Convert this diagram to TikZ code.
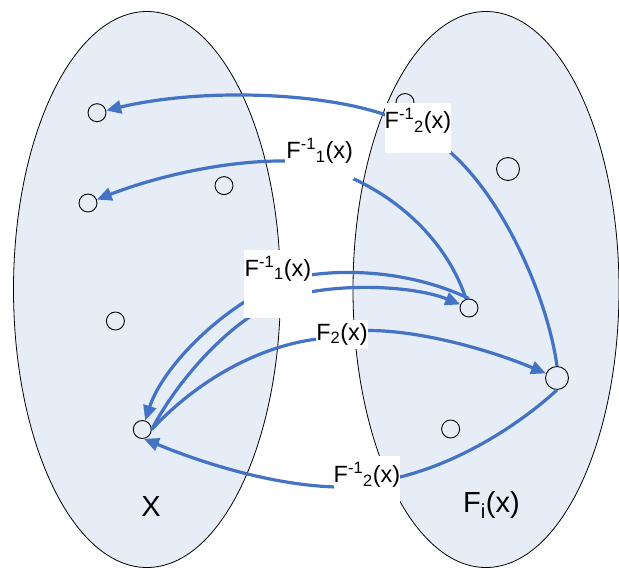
\documentclass[tikz,border=0pt]{standalone}
\usepackage{fontspec}
\setmainfont{Liberation Sans}
\usetikzlibrary{arrows.meta,shapes.geometric}
\definecolor{setfill}{RGB}{230,237,247}
\definecolor{arrowblue}{RGB}{68,114,196}
\begin{document}
\begin{tikzpicture}[x=1pt,y=-1pt,
  setshape/.style={ellipse, draw=black, line width=0.8pt, fill=setfill, inner sep=0pt},
  pt/.style={circle, draw=black, line width=0.9pt, inner sep=0pt, minimum size=18pt},
  bigpt/.style={pt, minimum size=23pt},
  conn/.style={draw=arrowblue, line width=3.2pt},
  arr/.style={conn, -{Triangle[length=15pt,width=13pt]}},
  lab/.style={fill=white, inner sep=0pt, anchor=north west, font=\fontsize{23.5}{26}\selectfont},
  big/.style={font=\fontsize{29}{32}\selectfont, inner sep=0pt, anchor=base}
]
\useasboundingbox (0,0) rectangle (619,574);
% sets
\node[setshape, minimum width=267pt, minimum height=556pt] (setX) at (147,289.5) {};
\node[setshape, minimum width=266pt, minimum height=556pt] (setF) at (486,289.5) {};
\node[big] (lx) at (151,516.5) {X};
\node[big] (lfx) at (491.5,512) {F\textsubscript{i}(x)};
% points
\node[pt] (c1) at (97,112.7) {};
\node[pt] (c2) at (88,203) {};
\node[pt] (c3) at (224,185.6) {};
\node[pt] (c4) at (115.4,321) {};
\node[pt] (c5) at (142.3,429.5) {};
\node[pt] (c6) at (405,102.5) {};
\node[bigpt] (c7) at (508,169) {};
\node[pt] (c8) at (469,308) {};
\node[bigpt] (c9) at (557,378) {};
\node[pt] (c10) at (450.6,429) {};
% label attachment points
\coordinate (k1a) at (450,152);
\coordinate (k1b) at (386,115);
\coordinate (k2a) at (353,178.5);
\coordinate (k2b) at (288,161);
\coordinate (k3a) at (310,275);
\coordinate (k3b) at (310,292);
\coordinate (k3c) at (246,301);
\coordinate (k3d) at (251,316);
\coordinate (k4a) at (317,339);
\coordinate (k4b) at (366,330.5);
\coordinate (k5a) at (398,477.5);
\coordinate (k5b) at (336,487);
% connectors
\draw[conn] (c9.north) .. controls (548,300) and (505,200) .. (k1a);
\draw[arr] (k1b) .. controls (320,92) and (200,88) .. (c1);
\draw[conn] (c8) .. controls (450,250) and (410,205) .. (k2a);
\draw[arr] (k2b) .. controls (230,160) and (160,175) .. (c2);
\draw[conn] (k3a) .. controls (360,268) and (420,275) .. (c8.north);
\draw[arr] (k3b) .. controls (360,283) and (420,288) .. (c8);
\draw[arr] (k3c) .. controls (200,330) and (160,375) .. (c5);
\draw[conn] (k3d) .. controls (215,340) and (175,385) .. (c5.east);
\draw[conn] (c5.east) .. controls (188,390) and (248,348) .. (k4a);
\draw[arr] (k4b) .. controls (420,330) and (490,350) .. (c9);
\draw[conn] (c9.south) .. controls (530,415) and (470,460) .. (k5a);
\draw[arr] (k5b) .. controls (270,485) and (200,462) .. (c5.-80);
% labels
\node[lab, minimum width=66pt, text height=25.8pt, text depth=24.7pt] (L1) at (384.5,102.5) {F\textsuperscript{-1}\textsubscript{2}(x)};
\node[lab, minimum width=69pt, text height=22.5pt, text depth=20.5pt] (L2) at (285,136) {F\textsuperscript{-1}\textsubscript{1}(x)};
\node[lab, minimum width=67.5pt, text height=26pt, text depth=41.5pt] (L3) at (244,250) {F\textsuperscript{-1}\textsubscript{1}(x)};
\node[lab, minimum width=52.5pt, text height=20.5pt, text depth=8.5pt] (L4) at (315.5,319.5) {F\textsubscript{2}(x)};
\node[lab, minimum width=66.5pt, text height=27.2pt, text depth=24.3pt] (L5) at (333.5,455.5) {F\textsuperscript{-1}\textsubscript{2}(x)};
\end{tikzpicture}
\end{document}
